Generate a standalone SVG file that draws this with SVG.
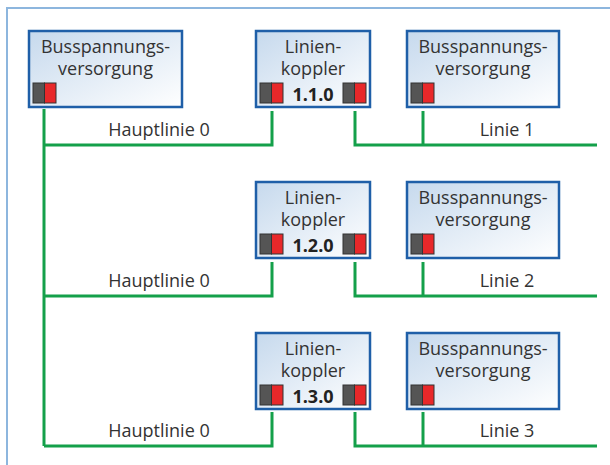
<svg xmlns="http://www.w3.org/2000/svg" width="610" height="465" viewBox="0 0 610 465">
<defs>
<linearGradient id="bg" x1="0" y1="0" x2="1" y2="1">
<stop offset="0" stop-color="#c6d9ed"/>
<stop offset="1" stop-color="#ffffff"/>
</linearGradient>
<g id="conn">
<rect x="0" y="0" width="11.5" height="20" fill="#555555" stroke="#333" stroke-width="1"/>
<rect x="11.5" y="0" width="11.5" height="20" fill="#e8282a" stroke="#333" stroke-width="1"/>
</g>
</defs>
<style>
.box{fill:url(#bg);stroke:#1f5fa8;stroke-width:2.5}
.t{font-family:"Open Sans","DejaVu Sans",sans-serif;font-size:18px;fill:#333333;text-anchor:middle}
.b{font-family:"Open Sans","DejaVu Sans",sans-serif;font-size:18px;font-weight:bold;fill:#222222;text-anchor:middle}
.g{fill:none;stroke:#14a04a;stroke-width:3}
</style>
<path d="M7,465 V8 H610" fill="none" stroke="#8db6de" stroke-width="2"/>
<g id="connectors">
<path class="g" d="M44,109 V446"/>
<path class="g" d="M44,145 H272 V111"/>
<path class="g" d="M355,111 V145 H597"/>
<path class="g" d="M423,111 V145"/>
<path class="g" d="M44,296 H272 V262"/>
<path class="g" d="M355,262 V296 H597"/>
<path class="g" d="M423,262 V296"/>
<path class="g" d="M44,446 H272 V412"/>
<path class="g" d="M355,412 V446 H597"/>
<path class="g" d="M423,412 V446"/>
</g>
<g id="labels">
<text class="t" x="159" y="136">Hauptlinie 0</text>
<text class="t" x="507" y="136">Linie 1</text>
<text class="t" x="159" y="287">Hauptlinie 0</text>
<text class="t" x="507" y="287">Linie 2</text>
<text class="t" x="159" y="437">Hauptlinie 0</text>
<text class="t" x="507" y="437">Linie 3</text>
</g>
<g id="bsv0">
<rect class="box" x="29" y="31" width="153" height="76"/>
<text class="t" x="105.5" y="53">Busspannungs-</text>
<text class="t" x="105.5" y="75">versorgung</text>
<use href="#conn" x="33" y="83"/>
</g>
<g id="lk1">
<rect class="box" x="256" y="31" width="114" height="76"/>
<text class="t" x="313" y="53">Linien-</text>
<text class="t" x="313" y="75">koppler</text>
<use href="#conn" x="260" y="83"/>
<text class="b" x="313" y="101">1.1.0</text>
<use href="#conn" x="343" y="83"/>
</g>
<g id="bsv1">
<rect class="box" x="407" y="31" width="152" height="76"/>
<text class="t" x="483" y="53">Busspannungs-</text>
<text class="t" x="483" y="75">versorgung</text>
<use href="#conn" x="411" y="83"/>
</g>
<g id="lk2">
<rect class="box" x="256" y="182" width="114" height="76"/>
<text class="t" x="313" y="204">Linien-</text>
<text class="t" x="313" y="226">koppler</text>
<use href="#conn" x="260" y="234"/>
<text class="b" x="313" y="252">1.2.0</text>
<use href="#conn" x="343" y="234"/>
</g>
<g id="bsv2">
<rect class="box" x="407" y="182" width="152" height="76"/>
<text class="t" x="483" y="204">Busspannungs-</text>
<text class="t" x="483" y="226">versorgung</text>
<use href="#conn" x="411" y="234"/>
</g>
<g id="lk3">
<rect class="box" x="256" y="333" width="114" height="76"/>
<text class="t" x="313" y="355">Linien-</text>
<text class="t" x="313" y="377">koppler</text>
<use href="#conn" x="260" y="385"/>
<text class="b" x="313" y="403">1.3.0</text>
<use href="#conn" x="343" y="385"/>
</g>
<g id="bsv3">
<rect class="box" x="407" y="333" width="152" height="76"/>
<text class="t" x="483" y="355">Busspannungs-</text>
<text class="t" x="483" y="377">versorgung</text>
<use href="#conn" x="411" y="385"/>
</g>
</svg>
